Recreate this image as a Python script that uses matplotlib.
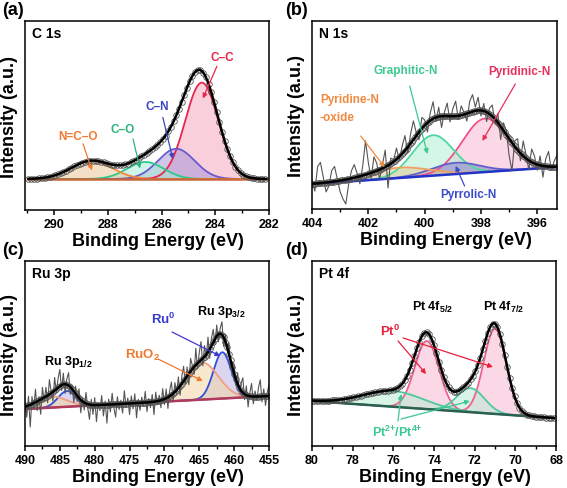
import numpy as np
import matplotlib.pyplot as plt
from matplotlib.ticker import MultipleLocator

plt.rcParams['font.family'] = ['Liberation Sans', 'DejaVu Sans']
plt.rcParams['font.weight'] = 'bold'
plt.rcParams['axes.labelweight'] = 'bold'
plt.rcParams['mathtext.fontset'] = 'custom'
plt.rcParams['mathtext.rm'] = 'Liberation Sans:bold'
plt.rcParams['mathtext.bf'] = 'Liberation Sans:bold'
plt.rcParams['mathtext.it'] = 'Liberation Sans:bold'
plt.rcParams['mathtext.default'] = 'bf'

# fitted components: centre (eV), height, FWHM (intensity in axis fraction)
# (a) C 1s : C-C, C-N, C-O, N=C-O
a_center = [284.5, 285.45, 286.6, 288.6]
a_height = [0.51, 0.16, 0.09, 0.096]
a_fwhm = [1.45, 1.6, 1.6, 1.8]
a_base = [0.164, 0.164]
a_range = [290.95, 282.1]

# (b) N 1s : pyridinic, graphitic, pyrrolic, pyridine-N-oxide
b_center = [397.85, 399.7, 398.9, 400.9]
b_height = [0.285, 0.215, 0.06, 0.055]
b_fwhm = [1.9, 1.7, 2.0, 2.5]
b_base = [0.133, 0.223]
b_range = [404.0, 395.3]
b_noise = [0.02, -0.04, 0.09, 0.11, 0.03, -0.05, -0.02, 0.06, 0.08, 0.01,
           -0.06, -0.1, -0.13, -0.03, 0.04, 0.07, 0.02, -0.04, 0.05, 0.18,
           0.06, -0.03, 0.08, 0.04, -0.05, 0.02, 0.09, -0.12, 0.03, 0.01,
           0.06, -0.02, 0.04, 0.08, -0.03, 0.05, 0.1, 0.02, -0.04, 0.06,
           0.03, -0.05, 0.04, 0.09, -0.02, 0.05, -0.06, 0.02, 0.07, -0.03,
           0.04, 0.08, -0.02, 0.05, 0.01, -0.04, 0.06, 0.09, 0.02, 0.07,
           -0.03, 0.04, -0.05, 0.03, 0.06, -0.02, 0.05, -0.07, 0.04, 0.02,
           -0.09, -0.15, 0.03, 0.06, -0.04, 0.08, 0.02, -0.05, 0.07, 0.04,
           -0.03, 0.05, -0.06, 0.04, 0.08, -0.02, 0.03, 0.06]

# (c) Ru 3p : Ru0 3p3/2, RuO2 3p3/2, Ru0 3p1/2, RuO2 3p1/2
c_center = [461.7, 464.6, 484.0, 486.2]
c_height = [0.25, 0.20, 0.085, 0.06]
c_fwhm = [3.0, 5.5, 3.0, 5.0]
c_base = [0.20, 0.27]
c_range = [490.0, 455.0]
c_noise = [0.03, -0.06, 0.05, -0.12, 0.04, -0.03, 0.07, -0.05, 0.02, -0.08,
           0.06, -0.02, 0.05, -0.04, 0.08, 0.01, -0.05, 0.07, -0.02, 0.05,
           0.09, -0.03, 0.06, -0.05, 0.03, 0.07, -0.04, 0.02, -0.06, 0.04,
           -0.03, 0.05, -0.07, 0.02, -0.04, 0.06, -0.02, -0.08, 0.03, -0.05,
           0.04, -0.09, 0.01, -0.03, 0.05, -0.06, 0.02, -0.1, 0.03, -0.04,
           0.06, -0.02, -0.07, 0.04, -0.03, 0.02, -0.05, 0.07, -0.02, 0.03,
           -0.06, 0.04, -0.03, 0.05, -0.08, 0.02, -0.04, 0.03, -0.02, 0.06,
           -0.05, 0.02, -0.03, 0.04, -0.07, 0.05, -0.02, 0.03, -0.04, 0.06,
           -0.03, 0.05, -0.06, 0.03, 0.07, -0.04, 0.05, -0.02, 0.06, -0.05,
           0.04, 0.08, -0.03, 0.05, -0.06, 0.07, 0.02, -0.04, 0.09, -0.03,
           0.05, 0.1, -0.04, 0.06, -0.02, 0.08, -0.05, 0.04, 0.07, -0.03,
           0.06, -0.04, 0.03, 0.07, -0.05, 0.04, -0.02, 0.06, -0.04, 0.03,
           0.05, -0.03, 0.06, -0.02, 0.04, 0.08, -0.03, 0.05, -0.06, 0.02,
           0.07, -0.04, 0.03, -0.02, 0.05, 0.09, -0.03, 0.04, -0.05, 0.02,
           0.06]

# (d) Pt 4f : Pt0 4f7/2, Pt0 4f5/2, Pt2+/4+ (x2)
d_center = [71.0, 74.35, 72.2, 76.0]
d_height = [0.46, 0.368, 0.13, 0.085]
d_fwhm = [1.3, 1.4, 1.6, 3.5]
d_base = [0.243, 0.151]
d_range = [80.0, 68.1]


def gauss(x, c, h, w):
    return h * np.exp(-4 * np.log(2) * ((x - c) / w) ** 2)


def draw(ax, xr, cen, hei, fw, base, lcols, fcols, bcol, step, noise=None):
    x = np.linspace(xr[0], xr[1], 600)
    bl = base[0] + (base[1] - base[0]) * (x - xr[0]) / (xr[1] - xr[0])
    comps = [gauss(x, c, h, w) for c, h, w in zip(cen, hei, fw)]
    for y, fc in zip(comps, fcols):
        ax.fill_between(x, bl, bl + y, color=fc, alpha=0.55, lw=0)
    for y, lc in zip(comps, lcols):
        ax.plot(x, bl + y, color=lc, lw=1.3)
    ax.plot(x, bl, color=bcol, lw=1.8)
    env = bl + np.sum(comps, axis=0)
    if noise is not None:
        xn = np.linspace(xr[0], xr[1], len(noise))
        bn = base[0] + (base[1] - base[0]) * (xn - xr[0]) / (xr[1] - xr[0])
        en = bn + sum(gauss(xn, c, h, w) for c, h, w in zip(cen, hei, fw))
        ax.plot(xn, en + np.array(noise), color='#555555', lw=0.8)
    xm = np.arange(xr[0], xr[1], -step)
    bm = base[0] + (base[1] - base[0]) * (xm - xr[0]) / (xr[1] - xr[0])
    em = bm + sum(gauss(xm, c, h, w) for c, h, w in zip(cen, hei, fw))
    ax.plot(xm, em, 'o', ms=4, mfc='none', mec='#555555', mew=0.6)
    ax.plot(x, env, color='black', lw=1.8)


def style(ax, xlim, major, minor, title):
    ax.set_xlim(*xlim)
    ax.set_ylim(0, 1)
    ax.set_yticks([])
    ax.xaxis.set_major_locator(MultipleLocator(major))
    ax.xaxis.set_minor_locator(MultipleLocator(minor))
    ax.tick_params(axis='x', which='major', direction='out', length=3.5,
                   width=1.1, labelsize=9, pad=2)
    ax.tick_params(axis='x', which='minor', direction='out', length=2, width=1)
    for s in ax.spines.values():
        s.set_linewidth(1.1)
    ax.text(0.03, 0.975, title, transform=ax.transAxes, ha='left', va='top',
            fontsize=10)


def arrow(ax, start, end, col):
    ax.annotate('', xy=end, xytext=start,
                arrowprops=dict(arrowstyle='-|>', color=col, lw=0.9,
                                mutation_scale=7, shrinkA=0, shrinkB=0))


fig = plt.figure(figsize=(5.67, 4.89), dpi=100)
axa = fig.add_axes([25 / 567, 1 - 211 / 489, 244 / 567, 189 / 489])
axb = fig.add_axes([312 / 567, 1 - 210 / 489, 245 / 567, 188 / 489])
axc = fig.add_axes([25 / 567, 1 - 447 / 489, 244 / 567, 185 / 489])
axd = fig.add_axes([312 / 567, 1 - 447 / 489, 244 / 567, 185 / 489])

# (a)
draw(axa, a_range, a_center, a_height, a_fwhm, a_base,
     ['#e8254a', '#6a5acd', '#2cc98a', '#f08a3c'],
     ['#f5a8c0', '#a898d8', '#a8ecd8', '#ecc898'], '#c8663a', 0.1)
style(axa, (291.08, 282), 2, 1, 'C 1s')
axa.text(283.75, 0.81, 'C–C', color='#e8254a', fontsize=8.5, ha='center', va='center')
arrow(axa, (283.94, 0.76), (284.46, 0.59), '#e8254a')
axa.text(286.17, 0.55, 'C–N', color='#3a46c0', fontsize=8.5, ha='center', va='center')
arrow(axa, (285.95, 0.49), (285.58, 0.27), '#3a46c0')
axa.text(287.43, 0.43, 'C–O', color='#2ab37a', fontsize=8.5, ha='center', va='center')
arrow(axa, (287.06, 0.376), (286.8, 0.22), '#2ab37a')
axa.text(289.1, 0.39, 'N=C–O', color='#f07a30', fontsize=8.5, ha='center', va='center')
arrow(axa, (288.92, 0.35), (288.59, 0.21), '#f07a30')

# (b)
draw(axb, b_range, b_center, b_height, b_fwhm, b_base,
     ['#f0508a', '#50d8a0', '#6060c8', '#f0a060'],
     ['#f8b8d0', '#b0f0d4', '#8880cc', '#e0cc98'], '#2233cc', 0.06, b_noise)
style(axb, (404, 395.3), 2, 1, 'N 1s')
axb.text(400.67, 0.74, 'Graphitic-N', color='#3cc890', fontsize=8.5, ha='center', va='center')
arrow(axb, (400.53, 0.654), (399.9, 0.293), '#3cc890')
axb.text(396.64, 0.734, 'Pyridinic-N', color='#e8305a', fontsize=8.5, ha='center', va='center')
arrow(axb, (396.78, 0.665), (397.95, 0.362), '#e8305a')
axb.text(403.72, 0.585, 'Pyridine-N', color='#f08a40', fontsize=8.5, ha='left', va='center')
axb.text(403.72, 0.489, '-oxide', color='#f08a40', fontsize=8.5, ha='left', va='center')
arrow(axb, (402.27, 0.388), (401.42, 0.223), '#f08a40')
axb.text(398.44, 0.08, 'Pyrrolic-N', color='#3c4cc8', fontsize=8.5, ha='center', va='center')
arrow(axb, (398.58, 0.122), (398.9, 0.229), '#3c4cc8')

# (c)
draw(axc, c_range, c_center, c_height, c_fwhm, c_base,
     ['#3050d8', '#f0a080', '#3050d8', '#f0a080'],
     ['#c0b4e6', '#f0d4a4', '#c0b4e6', '#f0d4a4'], '#b03a5a', 0.25, c_noise)
style(axc, (490, 455), 5, 2.5, 'Ru 3p')
axc.text(461.9, 0.73, 'Ru 3p$_{3/2}$', color='black', fontsize=9, ha='center', va='center')
axc.text(483.8, 0.46, 'Ru 3p$_{1/2}$', color='black', fontsize=9, ha='center', va='center')
axc.text(470.2, 0.69, 'Ru$^0$', color='#3a3ad0', fontsize=9.5, ha='center', va='center')
arrow(axc, (468.9, 0.616), (462.0, 0.486), '#3a3ad0')
axc.text(473.1, 0.497, 'RuO$_2$', color='#f07830', fontsize=9.5, ha='center', va='center')
arrow(axc, (470.9, 0.47), (464.5, 0.351), '#f07830')

# (d)
draw(axd, d_range, d_center, d_height, d_fwhm, d_base,
     ['#f06090', '#f06090', '#50c8a0', '#50c8a0'],
     ['#f8b8d0', '#f8b8d0', '#b8ecd4', '#b8ecd4'], '#2a6050', 0.12)
style(axd, (80, 68), 2, 1, 'Pt 4f')
axd.text(74.05, 0.757, 'Pt 4f$_{5/2}$', color='black', fontsize=9, ha='center', va='center')
axd.text(70.6, 0.757, 'Pt 4f$_{7/2}$', color='black', fontsize=9, ha='center', va='center')
axd.text(76.16, 0.627, 'Pt$^0$', color='#e8203a', fontsize=9.5, ha='center', va='center')
arrow(axd, (75.77, 0.568), (74.39, 0.389), '#e8203a')
arrow(axd, (75.52, 0.584), (71.1, 0.427), '#e8203a')
axd.text(75.8, 0.081, 'Pt$^{2{+}}$/Pt$^{4{+}}$', color='#3cc890', fontsize=9, ha='center', va='center')
arrow(axd, (75.77, 0.135), (75.62, 0.281), '#3cc890')
arrow(axd, (75.62, 0.146), (72.23, 0.243), '#3cc890')

# axis labels and panel letters
for ax, letter, lx, ly in [(axa, '(a)', 2, 2), (axb, '(b)', 285, 2),
                           (axc, '(c)', 2, 242), (axd, '(d)', 285, 242)]:
    fig.text(lx / 567, 1 - ly / 489, letter, fontsize=13, ha='left', va='top')
    pos = ax.get_position()
    fig.text(pos.x0 - 15 / 567, pos.y0 + pos.height * 0.5, 'Intensity (a.u.)',
             rotation=90, fontsize=13, ha='center', va='center')
    fig.text(pos.x0 + pos.width * 0.5 + 11 / 567, pos.y0 - 22 / 489,
             'Binding Energy (eV)', fontsize=13, ha='center', va='top')

fig.savefig('out.png', dpi=100)
